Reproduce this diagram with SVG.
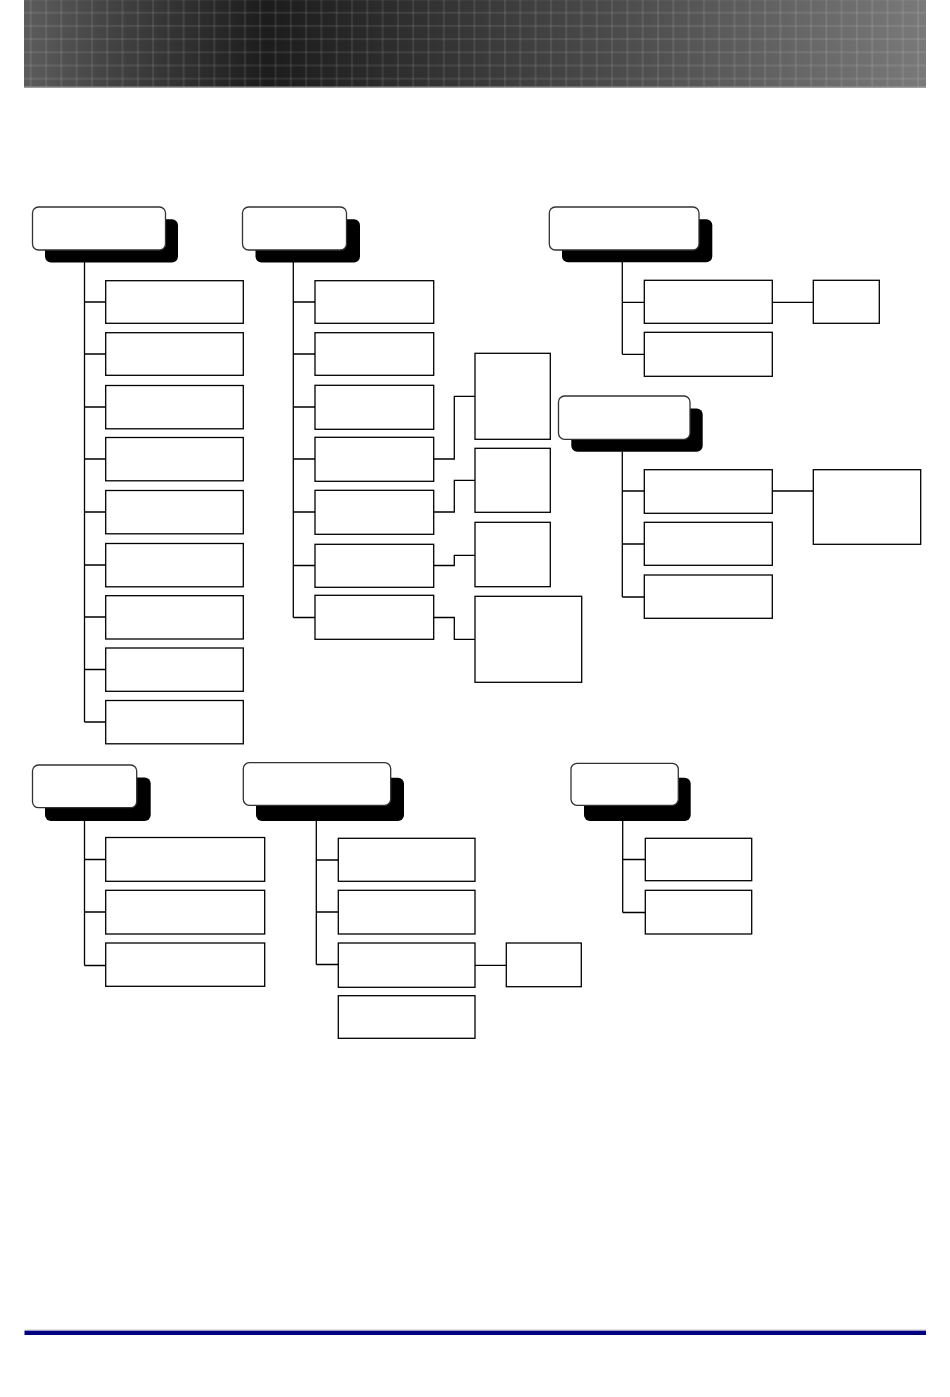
<svg xmlns="http://www.w3.org/2000/svg" width="950" height="1397" viewBox="0 0 950 1397">
  <defs>
    <linearGradient id="hdr" x1="24" y1="0" x2="926" y2="0" gradientUnits="userSpaceOnUse">
      <stop offset="0" stop-color="#5c5c5c"/>
      <stop offset="0.09" stop-color="#444"/>
      <stop offset="0.27" stop-color="#1c1c1c"/>
      <stop offset="0.5" stop-color="#383838"/>
      <stop offset="0.75" stop-color="#575757"/>
      <stop offset="1" stop-color="#797979"/>
    </linearGradient>
    <pattern id="grid" x="14.4" y="-1.5" width="15.3" height="13.2" patternUnits="userSpaceOnUse">
      <rect x="0" y="0" width="2" height="13.2" fill="#fff" fill-opacity="0.09"/>
      <rect x="0" y="0" width="15.3" height="2" fill="#fff" fill-opacity="0.09"/>
    </pattern>
    <style>
      .box { fill: #fff; stroke: #000; stroke-width: 1.3; }
      .title { fill: #fff; stroke: #333; stroke-width: 1.3; }
      .shadow { fill: #000; }
      .conn { fill: none; stroke: #000; stroke-width: 1.3; }
    </style>
  </defs>

  <g id="header">
    <rect x="24" y="0" width="902" height="87.5" fill="url(#hdr)"/>
    <rect x="24" y="0" width="902" height="87.5" fill="url(#grid)"/>
    <rect x="24" y="86.5" width="902" height="1.3" fill="#9a9a9a"/>
  </g>

  <g id="connectors">
    <!-- group 1 -->
    <path class="conn" d="M84.5 262 V722 M84.5 302 H105.7 M84.5 354 H105.7 M84.5 407 H105.7 M84.5 459 H105.7 M84.5 512 H105.7 M84.5 565 H105.7 M84.5 617 H105.7 M84.5 669.5 H105.7 M84.5 722 H105.7"/>
    <!-- group 2 -->
    <path class="conn" d="M293.3 262 V617.5 M293.3 302 H315 M293.3 354 H315 M293.3 407 H315 M293.3 459 H315 M293.3 512 H315 M293.3 565.5 H315 M293.3 617.5 H315"/>
    <path class="conn" d="M433.7 459 H454.3 V396.3 H475 M433.7 512 H454.3 V480.3 H475 M433.7 565.5 H454.3 V555.3 H475 M433.7 617.5 H454.3 V639.3 H475"/>
    <!-- group 3 -->
    <path class="conn" d="M622.3 262 V354.3 M622.3 302.3 H644.3 M622.3 354.3 H644.3 M772.3 302.3 H813.3"/>
    <!-- group 4 -->
    <path class="conn" d="M622.3 451.5 V597 M622.3 491 H644.3 M622.3 544 H644.3 M622.3 597 H644.3 M772.3 491 H813.3"/>
    <!-- group 5 -->
    <path class="conn" d="M84.5 821 V965.5 M84.5 859.5 H105.7 M84.5 912 H105.7 M84.5 965.5 H105.7"/>
    <!-- group 6 -->
    <path class="conn" d="M316.3 821 V964.5 M316.3 860 H338.3 M316.3 912 H338.3 M316.3 964.5 H338.3 M475 965.3 H506.3"/>
    <!-- group 7 -->
    <path class="conn" d="M622.7 821 V912.5 M622.7 859.5 H645.3 M622.7 912.5 H645.3"/>
  </g>

  <g id="title1">
    <rect class="shadow" x="45" y="219.3" width="133" height="43.3" rx="6"/>
    <rect class="title" x="32.5" y="207" width="133" height="43" rx="6"/>
  </g>
  <g id="group1-items">
    <rect id="n1a" class="box" x="105.7" y="280.7" width="137.6" height="42.6"/>
    <rect id="n1b" class="box" x="105.7" y="332.7" width="137.6" height="42.6"/>
    <rect id="n1c" class="box" x="105.7" y="385.5" width="137.6" height="43.3"/>
    <rect id="n1d" class="box" x="105.7" y="437.5" width="137.6" height="43.3"/>
    <rect id="n1e" class="box" x="105.7" y="490.5" width="137.6" height="43.3"/>
    <rect id="n1f" class="box" x="105.7" y="543.5" width="137.6" height="43.3"/>
    <rect id="n1g" class="box" x="105.7" y="595.7" width="137.6" height="43.3"/>
    <rect id="n1h" class="box" x="105.7" y="648" width="137.6" height="43.3"/>
    <rect id="n1i" class="box" x="105.7" y="700.5" width="137.6" height="43.3"/>
  </g>

  <g id="title2">
    <rect class="shadow" x="255.5" y="219.3" width="104.5" height="43.3" rx="6"/>
    <rect class="title" x="242.5" y="207" width="104" height="43" rx="6"/>
  </g>
  <g id="group2-items">
    <rect id="n2a" class="box" x="315" y="280.7" width="118.7" height="42.6"/>
    <rect id="n2b" class="box" x="315" y="332.7" width="118.7" height="42.6"/>
    <rect id="n2c" class="box" x="315" y="385.3" width="118.7" height="44"/>
    <rect id="n2d" class="box" x="315" y="437.3" width="118.7" height="44"/>
    <rect id="n2e" class="box" x="315" y="490.3" width="118.7" height="44"/>
    <rect id="n2f" class="box" x="315" y="544.3" width="118.7" height="43"/>
    <rect id="n2g" class="box" x="315" y="595.3" width="118.7" height="44"/>
  </g>
  <g id="group2-sub">
    <rect id="n2r1" class="box" x="475" y="353.3" width="75.3" height="86"/>
    <rect id="n2r2" class="box" x="475" y="448.3" width="75.3" height="64"/>
    <rect id="n2r3" class="box" x="475" y="522.3" width="75.3" height="64.4"/>
    <rect id="n2r4" class="box" x="475" y="596.3" width="106.7" height="86"/>
  </g>

  <g id="title3">
    <rect class="shadow" x="562" y="219.3" width="150.3" height="43" rx="6"/>
    <rect class="title" x="549.3" y="207" width="149.7" height="43" rx="6"/>
  </g>
  <g id="group3-items">
    <rect id="n3a" class="box" x="644.3" y="280.3" width="128" height="43"/>
    <rect id="n3b" class="box" x="644.3" y="332.3" width="128" height="44"/>
    <rect id="n3c" class="box" x="813.3" y="280.3" width="66" height="43"/>
  </g>

  <g id="title4">
    <rect class="shadow" x="571.3" y="408.5" width="131.4" height="43.2" rx="6"/>
    <rect class="title" x="558.5" y="396" width="131.5" height="43.3" rx="6"/>
  </g>
  <g id="group4-items">
    <rect id="n4a" class="box" x="644.3" y="469.7" width="128" height="43.6"/>
    <rect id="n4b" class="box" x="644.3" y="522.3" width="128" height="43"/>
    <rect id="n4c" class="box" x="644.3" y="575" width="128" height="43.3"/>
    <rect id="n4d" class="box" x="813.3" y="469.7" width="107.4" height="74.6"/>
  </g>

  <g id="title5">
    <rect class="shadow" x="45" y="777.5" width="105.7" height="43.5" rx="6"/>
    <rect class="title" x="32.5" y="765" width="104.2" height="42.7" rx="6"/>
  </g>
  <g id="group5-items">
    <rect id="n5a" class="box" x="105.7" y="837.5" width="159" height="43.8"/>
    <rect id="n5b" class="box" x="105.7" y="890.3" width="159" height="43.7"/>
    <rect id="n5c" class="box" x="105.7" y="943" width="159" height="43.3"/>
  </g>

  <g id="title6">
    <rect class="shadow" x="256" y="777.7" width="148" height="43.3" rx="6"/>
    <rect class="title" x="243.3" y="762.7" width="147.4" height="42.6" rx="6"/>
  </g>
  <g id="group6-items">
    <rect id="n6a" class="box" x="338.3" y="838.3" width="136.7" height="43"/>
    <rect id="n6b" class="box" x="338.3" y="890.3" width="136.7" height="43.7"/>
    <rect id="n6c" class="box" x="338.3" y="943" width="136.7" height="44.3"/>
    <rect id="n6d" class="box" x="338.3" y="995.7" width="136.7" height="42.6"/>
    <rect id="n6e" class="box" x="506.3" y="943" width="75" height="43.7"/>
  </g>

  <g id="title7">
    <rect class="shadow" x="584" y="777.7" width="106.7" height="43.3" rx="6"/>
    <rect class="title" x="571" y="763.3" width="107.3" height="42" rx="6"/>
  </g>
  <g id="group7-items">
    <rect id="n7a" class="box" x="645.3" y="838.3" width="106.4" height="42.4"/>
    <rect id="n7b" class="box" x="645.3" y="890.3" width="106.4" height="43.7"/>
  </g>

  <g id="footer">
    <rect x="24.5" y="1329.5" width="901.5" height="1" fill="#c8c8d0"/>
    <rect x="24.5" y="1330.7" width="901.5" height="4.3" fill="#000080"/>
  </g>
</svg>
